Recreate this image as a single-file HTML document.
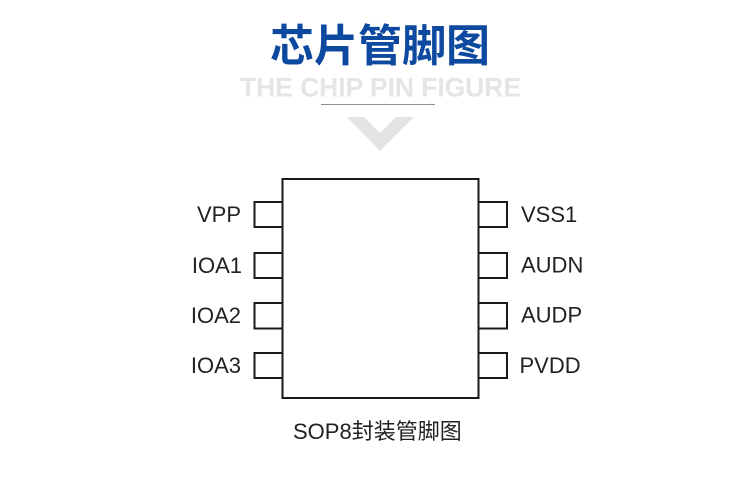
<!DOCTYPE html>
<html>
<head>
<meta charset="utf-8">
<style>
html,body{margin:0;padding:0;background:#fff;width:750px;height:486px;overflow:hidden}
svg{display:block}
text{font-family:"Liberation Sans","Noto Sans CJK SC",sans-serif}
</style>
</head>
<body>
<svg width="750" height="486" viewBox="0 0 750 486" xmlns="http://www.w3.org/2000/svg">
<rect width="750" height="486" fill="#fff"/>
<text x="270" y="61" font-size="44" font-weight="700" fill="#0d4a9f" style="font-family:'Noto Sans CJK SC',sans-serif">芯片管脚图</text>
<text x="240" y="96.500" font-size="26.500" font-weight="700" fill="#e4e5e7" textLength="281" lengthAdjust="spacing">THE CHIP PIN FIGURE</text>
<rect x="321" y="104" width="114" height="1" fill="#8f8f8f"/>
<polygon points="347,117 364,117 380,133 396,117 414,117 380,151" fill="#e4e4e4"/>
<g fill="none" stroke="#1a1a1a" stroke-width="2">
<rect x="282.500" y="179" width="196" height="219"/>
<path d="M282 202H254.500V227H282"/>
<path d="M282 253H254.500V278H282"/>
<path d="M282 303H254.500V328.500H282"/>
<path d="M282 353H254.500V378H282"/>
<path d="M479 202H507V227H479"/>
<path d="M479 253H507V278H479"/>
<path d="M479 303H507V328.500H479"/>
<path d="M479 353H507V378H479"/>
</g>
<g fill="#222" font-size="22">
<text x="241" y="222" text-anchor="end">VPP</text>
<text x="242" y="273" text-anchor="end">IOA1</text>
<text x="241" y="323" text-anchor="end">IOA2</text>
<text x="241" y="373" text-anchor="end">IOA3</text>
<text x="521" y="222">VSS1</text>
<text x="521" y="272.500">AUDN</text>
<text x="521" y="322.500">AUDP</text>
<text x="519.500" y="373">PVDD</text>
</g>
<text x="293" y="439" font-size="22" fill="#222">SOP8封装管脚图</text>
</svg>
</body>
</html>
